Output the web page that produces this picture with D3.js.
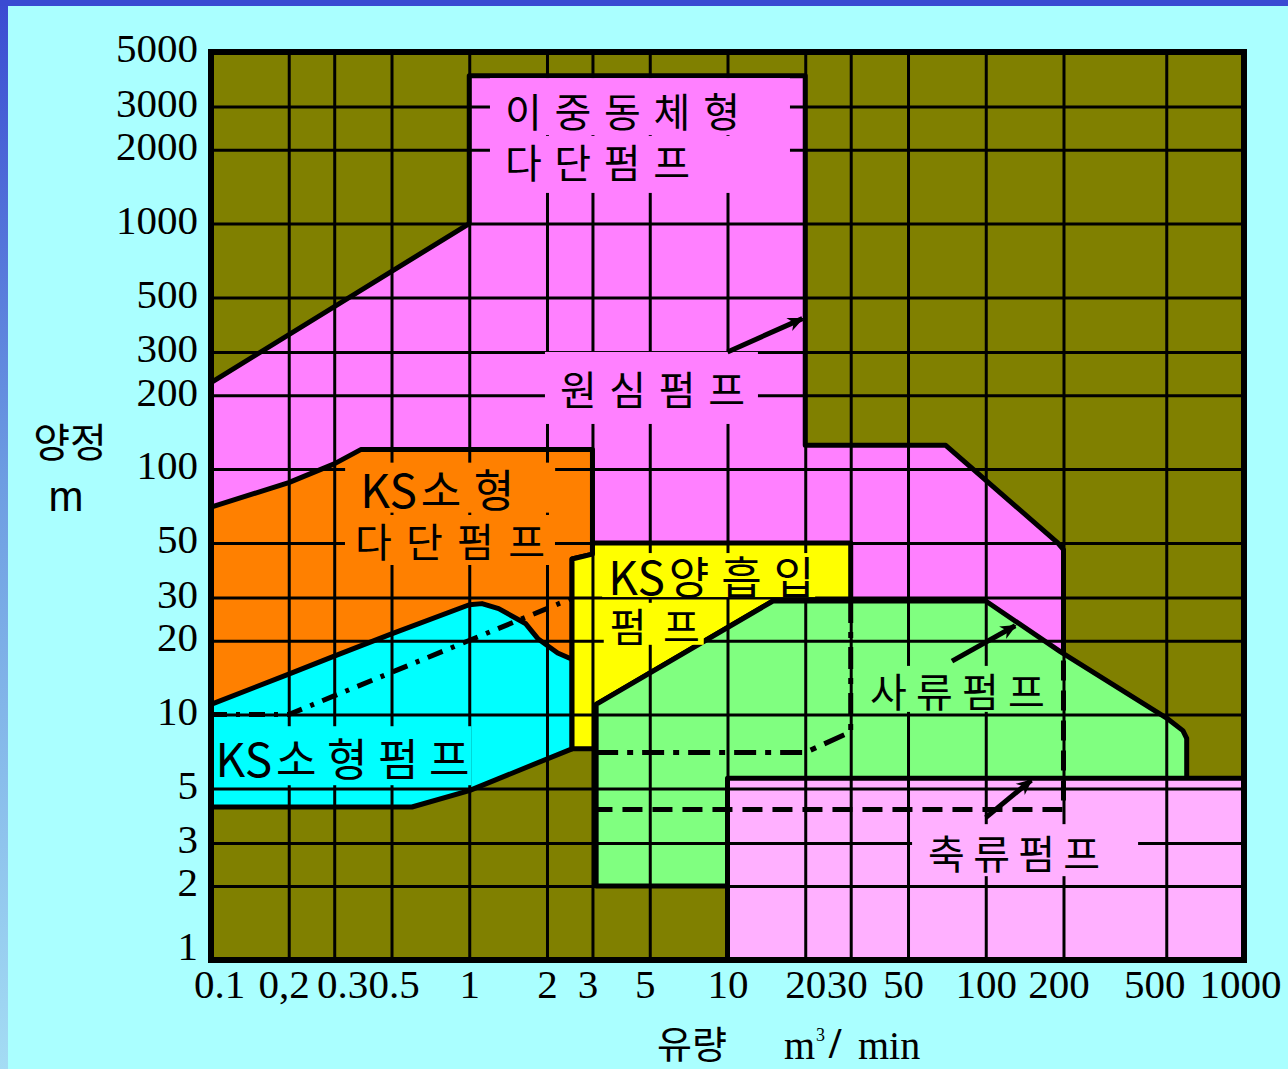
<!DOCTYPE html>
<html lang="ko">
<head>
<meta charset="utf-8">
<title>펌프 선정도</title>
<script src="https://cdn.jsdelivr.net/npm/d3@7"></script>
<style>
  html, body { margin: 0; padding: 0; background: #aaffff; overflow: hidden; }
  svg { display: block; }
  .tick text { font-family: "Liberation Serif", "DejaVu Serif", serif; font-size: 41px; fill: #000; }
  .kr { font-family: "Noto Sans CJK KR", "Noto Sans", sans-serif; fill: #000; }
</style>
</head>
<body>
<svg id="chart" width="1288" height="1069"></svg>
<script>
// ---------- data ----------
const flowTicks = [0.1, 0.2, 0.3, 0.5, 1, 2, 3, 5, 10, 20, 30, 50, 100, 200, 500, 1000];
const flowTickLabels = ["0.1", "0,2", "0.3", "0.5", "1", "2", "3", "5", "10", "20", "30", "50", "100", "200", "500", "1000"];
const headTicks = [1, 2, 3, 5, 10, 20, 30, 50, 100, 200, 300, 500, 1000, 2000, 3000, 5000];
const headTickLabels = ["1", "2", "3", "5", "10", "20", "30", "50", "100", "200", "300", "500", "1000", "2000", "3000", "5000"];

// Pump application ranges as [flow m³/min, head m] outlines.
// Later ranges are painted over earlier ones.
const centrifugalRange = [[0.1, 225], [1, 1000], [1, 4000], [20, 4000], [20, 125], [70, 125], [190, 50], [200, 47],
  [200, 18], [200, 12], [2, 12], [2, 60], [0.1, 60]];
const ksSmallMultistageRange = [[0.1, 70], [0.2, 88], [0.3, 105], [0.38, 120], [3.0, 120], [3.0, 45], [2.5, 43],
  [2.5, 10], [0.1, 10]];
const ksSmallRange = [[0.1, 11], [0.2, 14.6], [0.3, 17.3], [0.5, 21.3], [1, 28], [1.12, 28.3], [1.3, 27], [1.65, 23.5],
  [1.85, 20.3], [2.2, 17.8], [2.5, 16.8], [2.5, 7.25], [1, 4.9], [0.6, 4.2], [0.1, 4.2]];
const ksDoubleSuctionRange = [[3.0, 50], [30, 50], [30, 29], [15, 29], [3.1, 11], [3.1, 7.25], [2.5, 7.25], [2.5, 43], [3.0, 45]];
const mixedFlowRange = [[3.1, 11], [15, 29], [100, 29], [195, 18], [500, 9.7], [580, 8.6], [600, 8], [600, 2], [3.1, 2]];
const axialFlowRange = [[10, 5.5], [1000, 5.5], [1000, 1], [10, 1]];

// Range limits drawn as broken lines
const ksSmallLimit = [[0.1, 10], [0.2, 10], [2.45, 29.5]];
const ksDoubleSuctionLimit = [[3.1, 7], [20, 7], [30, 8.5], [30, 29]];
const centrifugalLowLimit = [[3.0, 4.1], [200, 4.1], [200, 18]];

// Pointer arrows [from, to]
const pointerArrows = [
  [[10, 300], [19.5, 410]],
  [[74, 16.5], [130, 23]],
  [[100, 3.8], [150, 5.4]]
];

// Range names: [latin prefix, hangul part], one entry per text line
const rangeLabels = [
  ["", "이중동체형"], ["", "다단펌프"], ["", "원심펌프"], ["KS", "소형"], ["", "다단펌프"],
  ["KS", "양흡입"], ["", "펌프"], ["", "사류펌프"], ["KS", "소형펌프"], ["", "축류펌프"]
];

// ---------- styling / layout ----------
const colors = {
  olive: "#808000", centrifugal: "#ff80ff", multistage: "#ff8000", small: "#00ffff",
  doubleSuction: "#ffff00", mixed: "#80ff80", axial: "#ffb0ff"
};
const regions = [
  { pts: centrifugalRange, fill: colors.centrifugal },
  { pts: ksSmallMultistageRange, fill: colors.multistage },
  { pts: ksSmallRange, fill: colors.small },
  { pts: ksDoubleSuctionRange, fill: colors.doubleSuction },
  { pts: mixedFlowRange, fill: colors.mixed },
  { pts: axialFlowRange, fill: colors.axial }
];
// anchor (start of text, vertical centre) in data units, font size, set width of the line,
// and the cleared margin [left,right,top,bottom] around it
const labelLayout = [
  { q: 1.375, h: 2900, fs: 40, w: 235, pad: [15, 50, 12, 5], bg: colors.centrifugal },
  { q: 1.375, h: 1800, fs: 40, w: 185, pad: [15, 100, 5, 12], bg: colors.centrifugal },
  { q: 2.245, h: 214, fs: 40, w: 185, pad: [15, 13, 16, 16], bg: colors.centrifugal },
  { q: 0.378, h: 84, fs: 44, w: 150, pad: [15, 45, 3, 3], bg: colors.multistage },
  { q: 0.361, h: 51.4, fs: 40, w: 190, pad: [10, 10, 5, 5], bg: colors.multistage },
  { q: 3.45, h: 37, fs: 44, w: 202, pad: [6, 5, 0, 0], bg: colors.doubleSuction },
  { q: 3.5, h: 23.2, fs: 40, w: 90, pad: [6, 4, 2, 0], bg: colors.doubleSuction },
  { q: 35.6, h: 12.6, fs: 40, w: 175, pad: [8, 8, 4, 2], bg: colors.mixed },
  { q: 0.104, h: 6.7, fs: 44, w: 250, pad: [2, 6, 9, 6], bg: colors.small },
  { q: 59.8, h: 2.75, fs: 40, w: 172, pad: [16, 38, 8, 4], bg: colors.axial }
];
// horizontal nudges of the flow tick labels
const flowLabelDx = [8, -5, 8, 2, 0, 0, -5, -5, 0, 0, -4, -5, 0, -5, -12, -4];

// ---------- scales ----------
const x = d3.scaleLog().domain([0.1, 1000]).range([211, 1244]);
const y = d3.scaleLog().domain([1, 5000]).range([960, 52]);
const line = d3.line().x(d => x(d[0])).y(d => y(d[1]));

const svg = d3.select("#chart");
const W = 1288, H = 1069;
const defs = svg.append("defs");

// page background with the blue edge band
const edge = defs.append("linearGradient").attr("id", "edge").attr("x1", 0).attr("y1", 0).attr("x2", 0).attr("y2", 1);
edge.append("stop").attr("offset", "0%").attr("stop-color", "#3a4bd2");
edge.append("stop").attr("offset", "45%").attr("stop-color", "#6d9de2");
edge.append("stop").attr("offset", "100%").attr("stop-color", "#a4dcf4");
svg.append("rect").attr("width", W).attr("height", H).attr("fill", "#aaffff");
svg.append("rect").attr("width", 8).attr("height", H).attr("fill", "url(#edge)");
svg.append("rect").attr("width", W).attr("height", 6).attr("fill", "#3a4bd2");

defs.append("marker").attr("id", "arrow").attr("viewBox", "0 0 10 10")
  .attr("refX", 9).attr("refY", 5).attr("markerWidth", 24).attr("markerHeight", 16)
  .attr("markerUnits", "userSpaceOnUse").attr("orient", "auto")
  .append("path").attr("d", "M0,0.5 L10,5 L0,9.5 L3,5 Z").attr("fill", "#000");

const x0 = x(0.1), x1 = x(1000), yTop = y(5000), yBot = y(1);
const plot = svg.append("g");
plot.append("rect").attr("x", x0).attr("y", yTop).attr("width", x1 - x0).attr("height", yBot - yTop)
  .attr("fill", colors.olive);

// pump ranges
plot.selectAll("path.range").data(regions).join("path").attr("class", "range")
  .attr("d", d => line(d.pts) + "Z")
  .attr("fill", d => d.fill).attr("stroke", "#000").attr("stroke-width", 5).attr("stroke-linejoin", "round");

// grid
const flowGrid = flowTicks.slice(1, -1);
const headGrid = headTicks.slice(1, -1);
plot.append("g").attr("transform", `translate(0,${yBot})`)
  .call(d3.axisBottom(x).tickValues(flowGrid).tickSize(-(yBot - yTop)).tickFormat(""))
  .call(g => g.select(".domain").remove())
  .selectAll("line").attr("stroke", "#000").attr("stroke-width", 3);
plot.append("g").attr("transform", `translate(${x0},0)`)
  .call(d3.axisLeft(y).tickValues(headGrid).tickSize(-(x1 - x0)).tickFormat(""))
  .call(g => g.select(".domain").remove())
  .selectAll("line").attr("stroke", "#000").attr("stroke-width", 3);

// broken limit lines
plot.append("path").attr("d", line(ksSmallLimit)).attr("fill", "none").attr("stroke", "#000")
  .attr("stroke-width", 5).attr("stroke-dasharray", "16 9 4 9");
plot.append("path").attr("d", line(ksDoubleSuctionLimit)).attr("fill", "none").attr("stroke", "#000")
  .attr("stroke-width", 5).attr("stroke-dasharray", "22 9 6 9");
plot.append("path").attr("d", line(centrifugalLowLimit)).attr("fill", "none").attr("stroke", "#000")
  .attr("stroke-width", 5).attr("stroke-dasharray", "20 10");

// label clearings and labels
labelLayout.forEach(L => {
  const lx = x(L.q), cy = y(L.h);
  plot.append("rect").attr("x", lx - L.pad[0]).attr("y", cy - L.fs / 2 - L.pad[2])
    .attr("width", L.w + L.pad[0] + L.pad[1]).attr("height", L.fs + L.pad[2] + L.pad[3])
    .attr("fill", L.bg);
});
labelLayout.forEach((L, i) => {
  const t = plot.append("text").attr("class", "kr")
    .attr("x", x(L.q)).attr("y", y(L.h))
    .attr("dominant-baseline", "central").attr("font-size", L.fs);
  const [latin, hangul] = rangeLabels[i];
  if (latin) t.append("tspan").attr("font-size", L.fs + 2).attr("letter-spacing", 0).text(latin);
  const hs = t.append("tspan").attr("dx", latin ? 4 : 0).text(hangul);
  // spread the hangul syllables so the line fills its set width
  const natural = t.node().getComputedTextLength();
  const n = Array.from(hangul).length;
  const ls = n > 1 ? Math.max(0, (L.w - natural) / (n - 1)) : 0;
  hs.attr("letter-spacing", ls);
});

// arrows
pointerArrows.forEach(a => {
  plot.append("path").attr("d", line(a)).attr("stroke", "#000").attr("stroke-width", 5)
    .attr("fill", "none").attr("marker-end", "url(#arrow)");
});

// frame
plot.append("rect").attr("x", x0).attr("y", yTop).attr("width", x1 - x0).attr("height", yBot - yTop)
  .attr("fill", "none").attr("stroke", "#000").attr("stroke-width", 6);

// axes tick labels
svg.append("g").attr("transform", `translate(0,${yBot})`)
  .call(d3.axisBottom(x).tickValues(flowTicks).tickFormat((d, i) => flowTickLabels[i]).tickSize(0).tickPadding(9))
  .call(g => g.select(".domain").remove())
  .selectAll("text").attr("dx", (d, i) => flowLabelDx[i]);
svg.append("g").attr("transform", `translate(${x0},0)`)
  .call(d3.axisLeft(y).tickValues(headTicks).tickFormat((d, i) => headTickLabels[i]).tickSize(0).tickPadding(13))
  .call(g => g.select(".domain").remove())
  .selectAll("text").attr("dy", d => d === 1 ? "-0.02em" : "0.24em");

// axis titles
svg.append("text").attr("class", "kr").attr("x", 70).attr("y", 440).attr("text-anchor", "middle")
  .attr("dominant-baseline", "central").attr("font-size", 40).text("양정");
svg.append("text").attr("x", 66).attr("y", 496).attr("text-anchor", "middle")
  .attr("dominant-baseline", "central").attr("font-size", 42)
  .attr("font-family", "Liberation Sans, Arial, sans-serif").text("m");
svg.append("text").attr("class", "kr").attr("x", 692).attr("y", 1041).attr("text-anchor", "middle")
  .attr("dominant-baseline", "central").attr("font-size", 38).text("유량");
const unit = svg.append("g").attr("font-family", "Liberation Serif, DejaVu Serif, serif").attr("fill", "#000");
unit.append("text").attr("x", 784).attr("y", 1059).attr("font-size", 40).text("m");
unit.append("text").attr("x", 816).attr("y", 1041).attr("font-size", 18).text("3");
unit.append("text").attr("x", 829).attr("y", 1058).attr("font-size", 44).attr("font-weight", "bold").text("/");
unit.append("text").attr("x", 858).attr("y", 1059).attr("font-size", 40).text("min");
</script>
</body>
</html>
